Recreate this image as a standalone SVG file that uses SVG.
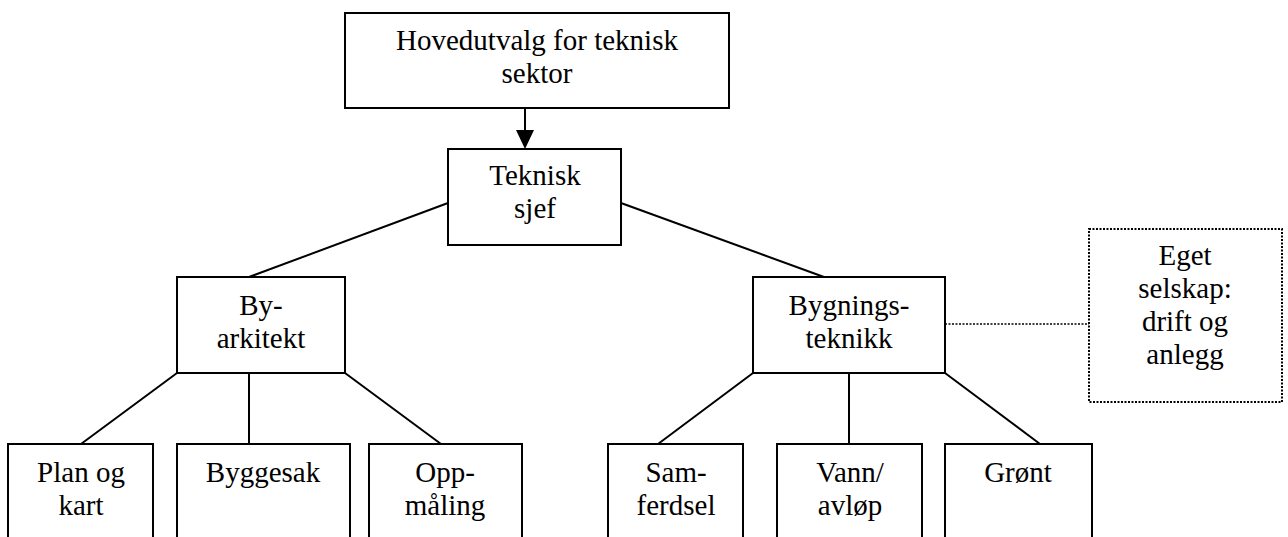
<svg xmlns="http://www.w3.org/2000/svg" width="1288" height="537" viewBox="0 0 1288 537">
<style>
.box{fill:#fff;stroke:#000;stroke-width:2}
.dot{fill:#fff;stroke:#000;stroke-width:2;stroke-dasharray:2 1.5}
.ln{stroke:#000;stroke-width:2;fill:none}
.dl{stroke:#000;stroke-width:1.5;stroke-dasharray:2 1.5;fill:none}
text{font-family:'Liberation Serif','DejaVu Serif',serif;font-size:29px;fill:#000;text-anchor:middle}
</style>
<rect width="1288" height="537" fill="#fff"/>
<g id="connectors">
<line class="ln" x1="525" y1="108" x2="525" y2="131"/>
<polygon points="516,130 534,130 525,149" fill="#000"/>
<line class="ln" x1="448" y1="203" x2="249" y2="277"/>
<line class="ln" x1="621" y1="203" x2="824" y2="277"/>
<line class="ln" x1="177" y1="373" x2="81" y2="444"/>
<line class="ln" x1="249" y1="373" x2="249" y2="444"/>
<line class="ln" x1="345" y1="373" x2="441" y2="444"/>
<line class="ln" x1="753" y1="373" x2="658" y2="444"/>
<line class="ln" x1="849" y1="373" x2="849" y2="444"/>
<line class="ln" x1="945" y1="373" x2="1040" y2="444"/>
<line class="dl" x1="945" y1="324" x2="1089" y2="324"/>
</g>
<g id="hovedutvalg">
<rect class="box" x="345" y="13" width="384" height="95"/>
<text x="537" y="50">Hovedutvalg for teknisk</text>
<text x="537" y="83">sektor</text>
</g>
<g id="teknisk-sjef">
<rect class="box" x="448" y="149" width="173" height="96"/>
<text x="535" y="185">Teknisk</text>
<text x="535" y="218">sjef</text>
</g>
<g id="byarkitekt">
<rect class="box" x="177" y="277" width="168" height="96"/>
<text x="261" y="315">By-</text>
<text x="261" y="348">arkitekt</text>
</g>
<g id="bygningsteknikk">
<rect class="box" x="753" y="277" width="192" height="96"/>
<text x="849" y="315">Bygnings-</text>
<text x="849" y="348">teknikk</text>
</g>
<g id="eget-selskap">
<rect class="dot" x="1089" y="229" width="193" height="173"/>
<text x="1185" y="265">Eget</text>
<text x="1185" y="298">selskap:</text>
<text x="1185" y="331">drift og</text>
<text x="1185" y="364">anlegg</text>
</g>
<g id="plan-og-kart">
<rect class="box" x="8" y="444" width="145" height="120"/>
<text x="81" y="482">Plan og</text>
<text x="81" y="515">kart</text>
</g>
<g id="byggesak">
<rect class="box" x="177" y="444" width="173" height="120"/>
<text x="263" y="482">Byggesak</text>
</g>
<g id="oppmaling">
<rect class="box" x="369" y="444" width="153" height="120"/>
<text x="445" y="482">Opp-</text>
<text x="445" y="515">måling</text>
</g>
<g id="samferdsel">
<rect class="box" x="608" y="444" width="135" height="120"/>
<text x="676" y="482">Sam-</text>
<text x="676" y="515">ferdsel</text>
</g>
<g id="vann-avlop">
<rect class="box" x="777" y="444" width="145" height="120"/>
<text x="850" y="482">Vann/</text>
<text x="850" y="515">avløp</text>
</g>
<g id="gront">
<rect class="box" x="945" y="444" width="147" height="120"/>
<text x="1018" y="482">Grønt</text>
</g>
</svg>
